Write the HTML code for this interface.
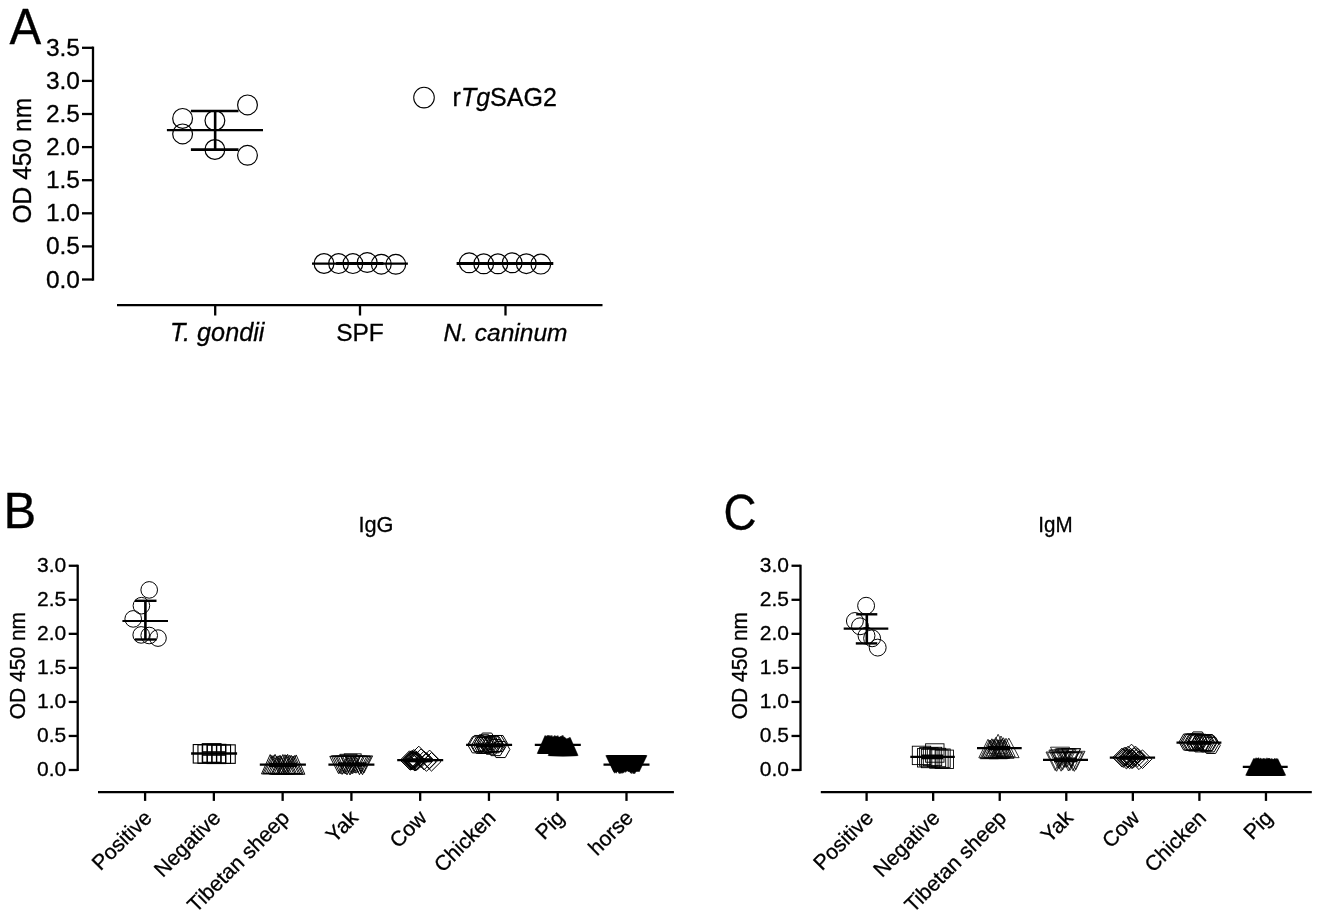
<!DOCTYPE html>
<html lang="en"><head><meta charset="utf-8"><title>Figure</title>
<style>html,body{margin:0;padding:0;background:#fff}svg{display:block}</style></head>
<body>
<svg width="1325" height="917" viewBox="0 0 1325 917" font-family="'Liberation Sans', sans-serif" fill="#000">
<style>text{stroke:#000;stroke-width:0.3px}</style>
<rect width="1325" height="917" fill="#fff"/>
<text x="0.00" y="0.00" font-size="47.5" text-anchor="start" transform="translate(9.6,43.9) scale(1,1.04)">A</text>
<line x1="93.00" y1="46.60" x2="93.00" y2="280.70" stroke="#000" stroke-width="2.3" />
<line x1="82.00" y1="279.50" x2="93.00" y2="279.50" stroke="#000" stroke-width="2.3" />
<text x="80.00" y="287.50" font-size="24.5" text-anchor="end" >0.0</text>
<line x1="82.00" y1="246.40" x2="93.00" y2="246.40" stroke="#000" stroke-width="2.3" />
<text x="80.00" y="254.40" font-size="24.5" text-anchor="end" >0.5</text>
<line x1="82.00" y1="213.30" x2="93.00" y2="213.30" stroke="#000" stroke-width="2.3" />
<text x="80.00" y="221.30" font-size="24.5" text-anchor="end" >1.0</text>
<line x1="82.00" y1="180.20" x2="93.00" y2="180.20" stroke="#000" stroke-width="2.3" />
<text x="80.00" y="188.20" font-size="24.5" text-anchor="end" >1.5</text>
<line x1="82.00" y1="147.10" x2="93.00" y2="147.10" stroke="#000" stroke-width="2.3" />
<text x="80.00" y="155.10" font-size="24.5" text-anchor="end" >2.0</text>
<line x1="82.00" y1="114.00" x2="93.00" y2="114.00" stroke="#000" stroke-width="2.3" />
<text x="80.00" y="122.00" font-size="24.5" text-anchor="end" >2.5</text>
<line x1="82.00" y1="80.90" x2="93.00" y2="80.90" stroke="#000" stroke-width="2.3" />
<text x="80.00" y="88.90" font-size="24.5" text-anchor="end" >3.0</text>
<line x1="82.00" y1="47.80" x2="93.00" y2="47.80" stroke="#000" stroke-width="2.3" />
<text x="80.00" y="55.80" font-size="24.5" text-anchor="end" >3.5</text>
<text x="0.00" y="0.00" font-size="24.6" text-anchor="middle" transform="translate(30.9,160.7) rotate(-90) scale(1,1.045)">OD 450 nm</text>
<line x1="117.00" y1="305.10" x2="602.50" y2="305.10" stroke="#000" stroke-width="2.3" />
<line x1="215.20" y1="305.10" x2="215.20" y2="315.50" stroke="#000" stroke-width="2.3" />
<line x1="360.00" y1="305.10" x2="360.00" y2="315.50" stroke="#000" stroke-width="2.3" />
<line x1="505.50" y1="305.10" x2="505.50" y2="315.50" stroke="#000" stroke-width="2.3" />
<text x="217.20" y="341.20" font-size="25.2" text-anchor="middle" font-style="italic">T. gondii</text>
<text x="360.00" y="340.80" font-size="24.5" text-anchor="middle" >SPF</text>
<text x="505.50" y="340.80" font-size="24.5" text-anchor="middle" font-style="italic">N. caninum</text>
<circle cx="182.60" cy="118.40" r="9.9" fill="none" stroke="#000" stroke-width="1.2"/>
<circle cx="182.60" cy="133.90" r="9.9" fill="none" stroke="#000" stroke-width="1.2"/>
<circle cx="214.90" cy="120.50" r="9.9" fill="none" stroke="#000" stroke-width="1.2"/>
<circle cx="214.90" cy="149.50" r="9.9" fill="none" stroke="#000" stroke-width="1.2"/>
<circle cx="247.50" cy="104.90" r="9.9" fill="none" stroke="#000" stroke-width="1.2"/>
<circle cx="247.50" cy="155.30" r="9.9" fill="none" stroke="#000" stroke-width="1.2"/>
<line x1="166.90" y1="130.10" x2="263.00" y2="130.10" stroke="#000" stroke-width="2.2" />
<line x1="190.90" y1="111.00" x2="238.50" y2="111.00" stroke="#000" stroke-width="2.6" />
<line x1="190.90" y1="149.60" x2="238.50" y2="149.60" stroke="#000" stroke-width="2.6" />
<line x1="215.15" y1="111.00" x2="215.15" y2="149.60" stroke="#000" stroke-width="2.6" />
<circle cx="324.00" cy="263.50" r="9.9" fill="none" stroke="#000" stroke-width="1.2"/>
<circle cx="338.60" cy="263.60" r="9.9" fill="none" stroke="#000" stroke-width="1.2"/>
<circle cx="352.90" cy="263.60" r="9.9" fill="none" stroke="#000" stroke-width="1.2"/>
<circle cx="367.20" cy="262.55" r="9.9" fill="none" stroke="#000" stroke-width="1.2"/>
<circle cx="381.30" cy="264.20" r="9.9" fill="none" stroke="#000" stroke-width="1.2"/>
<circle cx="395.80" cy="264.30" r="9.9" fill="none" stroke="#000" stroke-width="1.2"/>
<line x1="312.00" y1="263.70" x2="407.90" y2="263.70" stroke="#000" stroke-width="2.2" />
<line x1="336.10" y1="263.50" x2="383.40" y2="263.50" stroke="#000" stroke-width="3.0" />
<circle cx="469.20" cy="262.80" r="9.9" fill="none" stroke="#000" stroke-width="1.2"/>
<circle cx="483.70" cy="263.80" r="9.9" fill="none" stroke="#000" stroke-width="1.2"/>
<circle cx="497.90" cy="263.80" r="9.9" fill="none" stroke="#000" stroke-width="1.2"/>
<circle cx="512.20" cy="262.80" r="9.9" fill="none" stroke="#000" stroke-width="1.2"/>
<circle cx="526.30" cy="263.70" r="9.9" fill="none" stroke="#000" stroke-width="1.2"/>
<circle cx="540.80" cy="264.10" r="9.9" fill="none" stroke="#000" stroke-width="1.2"/>
<line x1="456.60" y1="263.50" x2="553.30" y2="263.50" stroke="#000" stroke-width="3.0" />
<circle cx="424.00" cy="97.60" r="10.3" fill="none" stroke="#000" stroke-width="1.05"/>
<text x="452.60" y="105.80" font-size="25" text-anchor="start" >r<tspan font-style="italic">Tg</tspan>SAG2</text>
<text x="0.00" y="0.00" font-size="49" text-anchor="start" transform="translate(3.4,528.1) scale(1,1.026)">B</text>
<line x1="77.70" y1="564.75" x2="77.70" y2="771.00" stroke="#000" stroke-width="2.3" />
<line x1="68.70" y1="770.00" x2="77.70" y2="770.00" stroke="#000" stroke-width="2.3" />
<text x="66.20" y="776.40" font-size="21" text-anchor="end" >0.0</text>
<line x1="68.70" y1="735.96" x2="77.70" y2="735.96" stroke="#000" stroke-width="2.3" />
<text x="66.20" y="742.36" font-size="21" text-anchor="end" >0.5</text>
<line x1="68.70" y1="701.92" x2="77.70" y2="701.92" stroke="#000" stroke-width="2.3" />
<text x="66.20" y="708.32" font-size="21" text-anchor="end" >1.0</text>
<line x1="68.70" y1="667.88" x2="77.70" y2="667.88" stroke="#000" stroke-width="2.3" />
<text x="66.20" y="674.27" font-size="21" text-anchor="end" >1.5</text>
<line x1="68.70" y1="633.83" x2="77.70" y2="633.83" stroke="#000" stroke-width="2.3" />
<text x="66.20" y="640.23" font-size="21" text-anchor="end" >2.0</text>
<line x1="68.70" y1="599.79" x2="77.70" y2="599.79" stroke="#000" stroke-width="2.3" />
<text x="66.20" y="606.19" font-size="21" text-anchor="end" >2.5</text>
<line x1="68.70" y1="565.75" x2="77.70" y2="565.75" stroke="#000" stroke-width="2.3" />
<text x="66.20" y="572.15" font-size="21" text-anchor="end" >3.0</text>
<text x="0.00" y="0.00" font-size="21" text-anchor="middle" transform="translate(25.3,665.6) rotate(-90) scale(1,1.08)">OD 450 nm</text>
<line x1="98.00" y1="792.10" x2="673.90" y2="792.10" stroke="#000" stroke-width="2.3" />
<line x1="145.10" y1="792.10" x2="145.10" y2="800.90" stroke="#000" stroke-width="2.3" />
<text x="0.00" y="0.00" font-size="21.2" text-anchor="end" transform="translate(153.0,819.1) rotate(-45)">Positive</text>
<line x1="213.87" y1="792.10" x2="213.87" y2="800.90" stroke="#000" stroke-width="2.3" />
<text x="0.00" y="0.00" font-size="21.2" text-anchor="end" transform="translate(221.8,819.1) rotate(-45)">Negative</text>
<line x1="282.64" y1="792.10" x2="282.64" y2="800.90" stroke="#000" stroke-width="2.3" />
<text x="0.00" y="0.00" font-size="21.2" text-anchor="end" transform="translate(290.5,819.1) rotate(-45)">Tibetan sheep</text>
<line x1="351.41" y1="792.10" x2="351.41" y2="800.90" stroke="#000" stroke-width="2.3" />
<text x="0.00" y="0.00" font-size="21.2" text-anchor="end" transform="translate(359.3,819.1) rotate(-45)">Yak</text>
<line x1="420.18" y1="792.10" x2="420.18" y2="800.90" stroke="#000" stroke-width="2.3" />
<text x="0.00" y="0.00" font-size="21.2" text-anchor="end" transform="translate(428.1,819.1) rotate(-45)">Cow</text>
<line x1="488.95" y1="792.10" x2="488.95" y2="800.90" stroke="#000" stroke-width="2.3" />
<text x="0.00" y="0.00" font-size="21.2" text-anchor="end" transform="translate(496.8,819.1) rotate(-45)">Chicken</text>
<line x1="557.72" y1="792.10" x2="557.72" y2="800.90" stroke="#000" stroke-width="2.3" />
<text x="0.00" y="0.00" font-size="21.2" text-anchor="end" transform="translate(565.6,819.1) rotate(-45)">Pig</text>
<line x1="626.49" y1="792.10" x2="626.49" y2="800.90" stroke="#000" stroke-width="2.3" />
<text x="0.00" y="0.00" font-size="21.2" text-anchor="end" transform="translate(634.4,819.1) rotate(-45)">horse</text>
<text x="0.00" y="0.00" font-size="22.2" text-anchor="middle" transform="translate(375.9,532.4) scale(0.98,1)">IgG</text>
<circle cx="149.20" cy="589.90" r="8.3" fill="none" stroke="#000" stroke-width="1"/>
<circle cx="141.40" cy="605.70" r="8.3" fill="none" stroke="#000" stroke-width="1"/>
<circle cx="133.20" cy="618.90" r="8.3" fill="none" stroke="#000" stroke-width="1"/>
<circle cx="141.20" cy="634.90" r="8.3" fill="none" stroke="#000" stroke-width="1"/>
<circle cx="149.20" cy="635.50" r="8.3" fill="none" stroke="#000" stroke-width="1"/>
<circle cx="158.00" cy="638.10" r="8.3" fill="none" stroke="#000" stroke-width="1"/>
<line x1="122.40" y1="621.00" x2="168.00" y2="621.00" stroke="#000" stroke-width="2.2" />
<line x1="135.00" y1="600.80" x2="156.50" y2="600.80" stroke="#000" stroke-width="2.4" />
<line x1="135.00" y1="639.50" x2="156.50" y2="639.50" stroke="#000" stroke-width="2.4" />
<line x1="145.40" y1="600.80" x2="145.40" y2="639.50" stroke="#000" stroke-width="2.6" />
<rect x="193.25" y="744.55" width="18.5" height="18.5" fill="none" stroke="#000" stroke-width="1.1"/>
<rect x="197.95" y="744.85" width="18.5" height="18.5" fill="none" stroke="#000" stroke-width="1.1"/>
<rect x="202.65" y="744.05" width="18.5" height="18.5" fill="none" stroke="#000" stroke-width="1.1"/>
<rect x="207.35" y="744.35" width="18.5" height="18.5" fill="none" stroke="#000" stroke-width="1.1"/>
<rect x="212.05" y="744.95" width="18.5" height="18.5" fill="none" stroke="#000" stroke-width="1.1"/>
<rect x="216.75" y="744.85" width="18.5" height="18.5" fill="none" stroke="#000" stroke-width="1.1"/>
<rect x="202.25" y="743.75" width="18.5" height="18.5" fill="none" stroke="#000" stroke-width="1.1"/>
<rect x="207.05" y="745.05" width="18.5" height="18.5" fill="none" stroke="#000" stroke-width="1.1"/>
<line x1="191.10" y1="753.50" x2="237.10" y2="753.50" stroke="#000" stroke-width="2.3" />
<line x1="202.00" y1="752.00" x2="225.50" y2="752.00" stroke="#000" stroke-width="1.6" />
<line x1="202.00" y1="755.00" x2="225.50" y2="755.00" stroke="#000" stroke-width="1.6" />
<polygon points="270.16,754.59 261.46,773.95 278.86,773.95" fill="none" stroke="#000" stroke-width="0.95" stroke-linejoin="miter"/>
<polygon points="271.56,755.59 262.86,773.67 280.26,773.67" fill="none" stroke="#000" stroke-width="0.95" stroke-linejoin="miter"/>
<polygon points="273.16,755.52 264.46,773.34 281.86,773.34" fill="none" stroke="#000" stroke-width="0.95" stroke-linejoin="miter"/>
<polygon points="275.07,754.38 266.37,773.39 283.77,773.39" fill="none" stroke="#000" stroke-width="0.95" stroke-linejoin="miter"/>
<polygon points="276.66,756.35 267.96,773.42 285.36,773.42" fill="none" stroke="#000" stroke-width="0.95" stroke-linejoin="miter"/>
<polygon points="278.11,755.83 269.41,774.25 286.81,774.25" fill="none" stroke="#000" stroke-width="0.95" stroke-linejoin="miter"/>
<polygon points="280.00,755.23 271.30,774.28 288.70,774.28" fill="none" stroke="#000" stroke-width="0.95" stroke-linejoin="miter"/>
<polygon points="281.18,756.43 272.48,773.59 289.88,773.59" fill="none" stroke="#000" stroke-width="0.95" stroke-linejoin="miter"/>
<polygon points="282.87,754.51 274.17,773.61 291.57,773.61" fill="none" stroke="#000" stroke-width="0.95" stroke-linejoin="miter"/>
<polygon points="285.01,754.67 276.31,773.88 293.71,773.88" fill="none" stroke="#000" stroke-width="0.95" stroke-linejoin="miter"/>
<polygon points="286.47,755.17 277.77,773.85 295.17,773.85" fill="none" stroke="#000" stroke-width="0.95" stroke-linejoin="miter"/>
<polygon points="287.62,754.35 278.92,773.51 296.32,773.51" fill="none" stroke="#000" stroke-width="0.95" stroke-linejoin="miter"/>
<polygon points="289.72,755.31 281.02,773.61 298.42,773.61" fill="none" stroke="#000" stroke-width="0.95" stroke-linejoin="miter"/>
<polygon points="291.25,755.38 282.55,773.60 299.95,773.60" fill="none" stroke="#000" stroke-width="0.95" stroke-linejoin="miter"/>
<polygon points="293.02,756.02 284.32,773.54 301.72,773.54" fill="none" stroke="#000" stroke-width="0.95" stroke-linejoin="miter"/>
<polygon points="294.45,755.57 285.75,774.18 303.15,774.18" fill="none" stroke="#000" stroke-width="0.95" stroke-linejoin="miter"/>
<polygon points="296.18,754.95 287.48,774.28 304.88,774.28" fill="none" stroke="#000" stroke-width="0.95" stroke-linejoin="miter"/>
<line x1="259.80" y1="764.70" x2="305.90" y2="764.70" stroke="#000" stroke-width="2.3" />
<line x1="269.00" y1="764.90" x2="297.00" y2="764.90" stroke="#000" stroke-width="4.4" />
<polygon points="338.49,773.60 329.79,756.38 347.19,756.38" fill="none" stroke="#000" stroke-width="0.95" stroke-linejoin="miter"/>
<polygon points="340.11,773.77 331.41,755.74 348.81,755.74" fill="none" stroke="#000" stroke-width="0.95" stroke-linejoin="miter"/>
<polygon points="342.11,774.43 333.41,756.22 350.81,756.22" fill="none" stroke="#000" stroke-width="0.95" stroke-linejoin="miter"/>
<polygon points="343.86,773.35 335.16,756.33 352.56,756.33" fill="none" stroke="#000" stroke-width="0.95" stroke-linejoin="miter"/>
<polygon points="345.23,773.99 336.53,756.11 353.93,756.11" fill="none" stroke="#000" stroke-width="0.95" stroke-linejoin="miter"/>
<polygon points="347.01,774.87 338.31,756.13 355.71,756.13" fill="none" stroke="#000" stroke-width="0.95" stroke-linejoin="miter"/>
<polygon points="348.46,772.75 339.76,754.33 357.16,754.33" fill="none" stroke="#000" stroke-width="0.95" stroke-linejoin="miter"/>
<polygon points="350.03,774.98 341.33,756.44 358.73,756.44" fill="none" stroke="#000" stroke-width="0.95" stroke-linejoin="miter"/>
<polygon points="351.33,773.53 342.63,756.30 360.03,756.30" fill="none" stroke="#000" stroke-width="0.95" stroke-linejoin="miter"/>
<polygon points="352.71,773.71 344.01,753.85 361.41,753.85" fill="none" stroke="#000" stroke-width="0.95" stroke-linejoin="miter"/>
<polygon points="354.37,772.74 345.67,756.39 363.07,756.39" fill="none" stroke="#000" stroke-width="0.95" stroke-linejoin="miter"/>
<polygon points="355.97,773.19 347.27,756.05 364.67,756.05" fill="none" stroke="#000" stroke-width="0.95" stroke-linejoin="miter"/>
<polygon points="358.15,772.79 349.45,756.10 366.85,756.10" fill="none" stroke="#000" stroke-width="0.95" stroke-linejoin="miter"/>
<polygon points="359.48,774.72 350.78,756.44 368.18,756.44" fill="none" stroke="#000" stroke-width="0.95" stroke-linejoin="miter"/>
<polygon points="361.32,773.27 352.62,756.07 370.02,756.07" fill="none" stroke="#000" stroke-width="0.95" stroke-linejoin="miter"/>
<polygon points="362.50,774.72 353.80,756.56 371.20,756.56" fill="none" stroke="#000" stroke-width="0.95" stroke-linejoin="miter"/>
<polygon points="363.92,773.02 355.22,755.91 372.62,755.91" fill="none" stroke="#000" stroke-width="0.95" stroke-linejoin="miter"/>
<line x1="328.40" y1="764.60" x2="374.40" y2="764.60" stroke="#000" stroke-width="2.3" />
<line x1="338.00" y1="764.40" x2="366.00" y2="764.40" stroke="#000" stroke-width="4.2" />
<polygon points="409.50,750.81 418.80,760.11 409.50,769.41 400.20,760.11" fill="none" stroke="#000" stroke-width="1.0"/>
<polygon points="410.18,751.37 419.48,760.67 410.18,769.97 400.88,760.67" fill="none" stroke="#000" stroke-width="1.0"/>
<polygon points="410.86,751.60 420.16,760.90 410.86,770.20 401.56,760.90" fill="none" stroke="#000" stroke-width="1.0"/>
<polygon points="411.55,750.88 420.85,760.18 411.55,769.48 402.25,760.18" fill="none" stroke="#000" stroke-width="1.0"/>
<polygon points="412.23,750.31 421.53,759.61 412.23,768.91 402.93,759.61" fill="none" stroke="#000" stroke-width="1.0"/>
<polygon points="412.91,751.22 422.21,760.52 412.91,769.82 403.61,760.52" fill="none" stroke="#000" stroke-width="1.0"/>
<polygon points="413.59,751.11 422.89,760.41 413.59,769.71 404.29,760.41" fill="none" stroke="#000" stroke-width="1.0"/>
<polygon points="414.27,751.55 423.57,760.85 414.27,770.15 404.97,760.85" fill="none" stroke="#000" stroke-width="1.0"/>
<polygon points="414.95,752.40 424.25,761.70 414.95,771.00 405.65,761.70" fill="none" stroke="#000" stroke-width="1.0"/>
<polygon points="415.64,751.82 424.94,761.12 415.64,770.42 406.34,761.12" fill="none" stroke="#000" stroke-width="1.0"/>
<polygon points="416.32,751.43 425.62,760.73 416.32,770.03 407.02,760.73" fill="none" stroke="#000" stroke-width="1.0"/>
<polygon points="417.00,751.66 426.30,760.96 417.00,770.26 407.70,760.96" fill="none" stroke="#000" stroke-width="1.0"/>
<polygon points="418.80,746.20 428.10,755.50 418.80,764.80 409.50,755.50" fill="none" stroke="#000" stroke-width="1.0"/>
<polygon points="421.00,748.90 430.30,758.20 421.00,767.50 411.70,758.20" fill="none" stroke="#000" stroke-width="1.0"/>
<polygon points="424.00,751.20 433.30,760.50 424.00,769.80 414.70,760.50" fill="none" stroke="#000" stroke-width="1.0"/>
<polygon points="429.60,750.10 438.90,759.40 429.60,768.70 420.30,759.40" fill="none" stroke="#000" stroke-width="1.0"/>
<polygon points="431.50,752.50 440.80,761.80 431.50,771.10 422.20,761.80" fill="none" stroke="#000" stroke-width="1.0"/>
<polygon points="426.50,752.70 435.80,762.00 426.50,771.30 417.20,762.00" fill="none" stroke="#000" stroke-width="1.0"/>
<polygon points="414.00,749.50 423.30,758.80 414.00,768.10 404.70,758.80" fill="none" stroke="#000" stroke-width="1.0"/>
<line x1="397.20" y1="760.10" x2="443.20" y2="760.10" stroke="#000" stroke-width="2.3" />
<line x1="406.00" y1="760.30" x2="432.00" y2="760.30" stroke="#000" stroke-width="4.2" />
<polygon points="467.70,744.82 472.35,736.77 481.65,736.77 486.30,744.82 481.65,752.87 472.35,752.87" fill="none" stroke="#000" stroke-width="1.0"/>
<polygon points="469.64,743.51 474.29,735.46 483.59,735.46 488.24,743.51 483.59,751.56 474.29,751.56" fill="none" stroke="#000" stroke-width="1.0"/>
<polygon points="471.57,745.29 476.22,737.24 485.52,737.24 490.17,745.29 485.52,753.34 476.22,753.34" fill="none" stroke="#000" stroke-width="1.0"/>
<polygon points="473.51,745.04 478.16,736.99 487.46,736.99 492.11,745.04 487.46,753.09 478.16,753.09" fill="none" stroke="#000" stroke-width="1.0"/>
<polygon points="475.45,745.24 480.10,737.19 489.40,737.19 494.05,745.24 489.40,753.29 480.10,753.29" fill="none" stroke="#000" stroke-width="1.0"/>
<polygon points="477.38,745.08 482.03,737.03 491.33,737.03 495.98,745.08 491.33,753.13 482.03,753.13" fill="none" stroke="#000" stroke-width="1.0"/>
<polygon points="479.32,744.22 483.97,736.17 493.27,736.17 497.92,744.22 493.27,752.27 483.97,752.27" fill="none" stroke="#000" stroke-width="1.0"/>
<polygon points="481.25,744.24 485.90,736.19 495.20,736.19 499.85,744.24 495.20,752.29 485.90,752.29" fill="none" stroke="#000" stroke-width="1.0"/>
<polygon points="483.19,743.62 487.84,735.57 497.14,735.57 501.79,743.62 497.14,751.67 487.84,751.67" fill="none" stroke="#000" stroke-width="1.0"/>
<polygon points="485.13,744.73 489.78,736.68 499.08,736.68 503.73,744.73 499.08,752.78 489.78,752.78" fill="none" stroke="#000" stroke-width="1.0"/>
<polygon points="487.06,743.53 491.71,735.48 501.01,735.48 505.66,743.53 501.01,751.58 491.71,751.58" fill="none" stroke="#000" stroke-width="1.0"/>
<polygon points="489.00,743.54 493.65,735.49 502.95,735.49 507.60,743.54 502.95,751.59 493.65,751.59" fill="none" stroke="#000" stroke-width="1.0"/>
<polygon points="477.70,741.10 482.35,733.05 491.65,733.05 496.30,741.10 491.65,749.15 482.35,749.15" fill="none" stroke="#000" stroke-width="1.0"/>
<polygon points="486.30,747.60 490.95,739.55 500.25,739.55 504.90,747.60 500.25,755.65 490.95,755.65" fill="none" stroke="#000" stroke-width="1.0"/>
<polygon points="491.30,749.50 495.95,741.45 505.25,741.45 509.90,749.50 505.25,757.55 495.95,757.55" fill="none" stroke="#000" stroke-width="1.0"/>
<polygon points="474.70,742.80 479.35,734.75 488.65,734.75 493.30,742.80 488.65,750.85 479.35,750.85" fill="none" stroke="#000" stroke-width="1.0"/>
<polygon points="481.70,746.20 486.35,738.15 495.65,738.15 500.30,746.20 495.65,754.25 486.35,754.25" fill="none" stroke="#000" stroke-width="1.0"/>
<line x1="466.10" y1="744.90" x2="512.10" y2="744.90" stroke="#000" stroke-width="2.3" />
<line x1="476.00" y1="745.40" x2="503.00" y2="745.40" stroke="#000" stroke-width="4.2" />
<polygon points="545.00,735.62 537.20,753.50 552.80,753.50" fill="#000" stroke="#000" stroke-width="0.5" stroke-linejoin="miter"/>
<polygon points="545.86,735.52 538.06,753.50 553.66,753.50" fill="#000" stroke="#000" stroke-width="0.5" stroke-linejoin="miter"/>
<polygon points="546.71,735.88 538.91,753.50 554.51,753.50" fill="#000" stroke="#000" stroke-width="0.5" stroke-linejoin="miter"/>
<polygon points="547.57,735.31 539.77,753.50 555.37,753.50" fill="#000" stroke="#000" stroke-width="0.5" stroke-linejoin="miter"/>
<polygon points="548.43,735.20 540.63,753.50 556.23,753.50" fill="#000" stroke="#000" stroke-width="0.5" stroke-linejoin="miter"/>
<polygon points="549.29,735.50 541.49,753.50 557.09,753.50" fill="#000" stroke="#000" stroke-width="0.5" stroke-linejoin="miter"/>
<polygon points="550.14,735.40 542.34,753.50 557.94,753.50" fill="#000" stroke="#000" stroke-width="0.5" stroke-linejoin="miter"/>
<polygon points="551.00,735.93 543.20,753.50 558.80,753.50" fill="#000" stroke="#000" stroke-width="0.5" stroke-linejoin="miter"/>
<polygon points="551.86,735.25 544.06,753.50 559.66,753.50" fill="#000" stroke="#000" stroke-width="0.5" stroke-linejoin="miter"/>
<polygon points="552.71,736.95 544.91,753.50 560.51,753.50" fill="#000" stroke="#000" stroke-width="0.5" stroke-linejoin="miter"/>
<polygon points="553.57,736.43 545.77,753.50 561.37,753.50" fill="#000" stroke="#000" stroke-width="0.5" stroke-linejoin="miter"/>
<polygon points="554.43,735.50 546.63,753.50 562.23,753.50" fill="#000" stroke="#000" stroke-width="0.5" stroke-linejoin="miter"/>
<polygon points="555.29,735.70 547.49,753.50 563.09,753.50" fill="#000" stroke="#000" stroke-width="0.5" stroke-linejoin="miter"/>
<polygon points="556.14,735.89 548.34,753.50 563.94,753.50" fill="#000" stroke="#000" stroke-width="0.5" stroke-linejoin="miter"/>
<polygon points="557.00,735.93 549.20,753.50 564.80,753.50" fill="#000" stroke="#000" stroke-width="0.5" stroke-linejoin="miter"/>
<polygon points="557.86,735.45 550.06,753.50 565.66,753.50" fill="#000" stroke="#000" stroke-width="0.5" stroke-linejoin="miter"/>
<polygon points="558.71,736.90 550.91,753.50 566.51,753.50" fill="#000" stroke="#000" stroke-width="0.5" stroke-linejoin="miter"/>
<polygon points="559.57,737.19 551.77,753.50 567.37,753.50" fill="#000" stroke="#000" stroke-width="0.5" stroke-linejoin="miter"/>
<polygon points="560.43,736.13 552.63,753.50 568.23,753.50" fill="#000" stroke="#000" stroke-width="0.5" stroke-linejoin="miter"/>
<polygon points="561.29,736.17 553.49,753.50 569.09,753.50" fill="#000" stroke="#000" stroke-width="0.5" stroke-linejoin="miter"/>
<polygon points="562.14,735.37 554.34,753.50 569.94,753.50" fill="#000" stroke="#000" stroke-width="0.5" stroke-linejoin="miter"/>
<polygon points="563.00,735.40 555.20,753.50 570.80,753.50" fill="#000" stroke="#000" stroke-width="0.5" stroke-linejoin="miter"/>
<polygon points="556.00,737.42 548.10,755.60 563.90,755.60" fill="#000" stroke="#000" stroke-width="0.5" stroke-linejoin="miter"/>
<polygon points="556.95,737.28 549.05,755.60 564.85,755.60" fill="#000" stroke="#000" stroke-width="0.5" stroke-linejoin="miter"/>
<polygon points="557.89,738.29 549.99,755.60 565.79,755.60" fill="#000" stroke="#000" stroke-width="0.5" stroke-linejoin="miter"/>
<polygon points="558.84,737.09 550.94,755.60 566.74,755.60" fill="#000" stroke="#000" stroke-width="0.5" stroke-linejoin="miter"/>
<polygon points="559.79,736.84 551.89,755.60 567.69,755.60" fill="#000" stroke="#000" stroke-width="0.5" stroke-linejoin="miter"/>
<polygon points="560.73,738.51 552.83,755.60 568.63,755.60" fill="#000" stroke="#000" stroke-width="0.5" stroke-linejoin="miter"/>
<polygon points="561.68,737.75 553.78,755.60 569.58,755.60" fill="#000" stroke="#000" stroke-width="0.5" stroke-linejoin="miter"/>
<polygon points="562.63,737.06 554.73,755.60 570.53,755.60" fill="#000" stroke="#000" stroke-width="0.5" stroke-linejoin="miter"/>
<polygon points="563.57,737.78 555.67,755.60 571.47,755.60" fill="#000" stroke="#000" stroke-width="0.5" stroke-linejoin="miter"/>
<polygon points="564.52,736.85 556.62,755.60 572.42,755.60" fill="#000" stroke="#000" stroke-width="0.5" stroke-linejoin="miter"/>
<polygon points="565.47,737.75 557.57,755.60 573.37,755.60" fill="#000" stroke="#000" stroke-width="0.5" stroke-linejoin="miter"/>
<polygon points="566.41,738.56 558.51,755.60 574.31,755.60" fill="#000" stroke="#000" stroke-width="0.5" stroke-linejoin="miter"/>
<polygon points="567.36,738.35 559.46,755.60 575.26,755.60" fill="#000" stroke="#000" stroke-width="0.5" stroke-linejoin="miter"/>
<polygon points="568.31,738.05 560.41,755.60 576.21,755.60" fill="#000" stroke="#000" stroke-width="0.5" stroke-linejoin="miter"/>
<polygon points="569.25,737.27 561.35,755.60 577.15,755.60" fill="#000" stroke="#000" stroke-width="0.5" stroke-linejoin="miter"/>
<polygon points="570.20,737.46 562.30,755.60 578.10,755.60" fill="#000" stroke="#000" stroke-width="0.5" stroke-linejoin="miter"/>
<line x1="534.80" y1="744.90" x2="580.80" y2="744.90" stroke="#000" stroke-width="2.3" />
<polygon points="613.60,771.63 605.80,755.60 621.40,755.60" fill="#000" stroke="#000" stroke-width="0.5" stroke-linejoin="miter"/>
<polygon points="614.48,773.21 606.68,755.60 622.28,755.60" fill="#000" stroke="#000" stroke-width="0.5" stroke-linejoin="miter"/>
<polygon points="615.37,772.58 607.57,755.60 623.17,755.60" fill="#000" stroke="#000" stroke-width="0.5" stroke-linejoin="miter"/>
<polygon points="616.25,773.23 608.45,755.60 624.05,755.60" fill="#000" stroke="#000" stroke-width="0.5" stroke-linejoin="miter"/>
<polygon points="617.13,772.06 609.33,755.60 624.93,755.60" fill="#000" stroke="#000" stroke-width="0.5" stroke-linejoin="miter"/>
<polygon points="618.01,771.78 610.21,755.60 625.81,755.60" fill="#000" stroke="#000" stroke-width="0.5" stroke-linejoin="miter"/>
<polygon points="618.90,773.31 611.10,755.60 626.70,755.60" fill="#000" stroke="#000" stroke-width="0.5" stroke-linejoin="miter"/>
<polygon points="619.78,773.76 611.98,755.60 627.58,755.60" fill="#000" stroke="#000" stroke-width="0.5" stroke-linejoin="miter"/>
<polygon points="620.66,773.42 612.86,755.60 628.46,755.60" fill="#000" stroke="#000" stroke-width="0.5" stroke-linejoin="miter"/>
<polygon points="621.54,773.30 613.74,755.60 629.34,755.60" fill="#000" stroke="#000" stroke-width="0.5" stroke-linejoin="miter"/>
<polygon points="622.43,773.33 614.63,755.60 630.23,755.60" fill="#000" stroke="#000" stroke-width="0.5" stroke-linejoin="miter"/>
<polygon points="623.31,773.12 615.51,755.60 631.11,755.60" fill="#000" stroke="#000" stroke-width="0.5" stroke-linejoin="miter"/>
<polygon points="624.19,771.79 616.39,755.60 631.99,755.60" fill="#000" stroke="#000" stroke-width="0.5" stroke-linejoin="miter"/>
<polygon points="625.08,772.55 617.28,755.60 632.88,755.60" fill="#000" stroke="#000" stroke-width="0.5" stroke-linejoin="miter"/>
<polygon points="625.96,772.12 618.16,755.60 633.76,755.60" fill="#000" stroke="#000" stroke-width="0.5" stroke-linejoin="miter"/>
<polygon points="626.84,771.28 619.04,755.60 634.64,755.60" fill="#000" stroke="#000" stroke-width="0.5" stroke-linejoin="miter"/>
<polygon points="627.72,771.27 619.92,755.60 635.52,755.60" fill="#000" stroke="#000" stroke-width="0.5" stroke-linejoin="miter"/>
<polygon points="628.61,771.93 620.81,755.60 636.41,755.60" fill="#000" stroke="#000" stroke-width="0.5" stroke-linejoin="miter"/>
<polygon points="629.49,771.87 621.69,755.60 637.29,755.60" fill="#000" stroke="#000" stroke-width="0.5" stroke-linejoin="miter"/>
<polygon points="630.37,773.00 622.57,755.60 638.17,755.60" fill="#000" stroke="#000" stroke-width="0.5" stroke-linejoin="miter"/>
<polygon points="631.26,773.69 623.46,755.60 639.06,755.60" fill="#000" stroke="#000" stroke-width="0.5" stroke-linejoin="miter"/>
<polygon points="632.14,772.36 624.34,755.60 639.94,755.60" fill="#000" stroke="#000" stroke-width="0.5" stroke-linejoin="miter"/>
<polygon points="633.02,773.64 625.22,755.60 640.82,755.60" fill="#000" stroke="#000" stroke-width="0.5" stroke-linejoin="miter"/>
<polygon points="633.90,773.77 626.10,755.60 641.70,755.60" fill="#000" stroke="#000" stroke-width="0.5" stroke-linejoin="miter"/>
<polygon points="634.79,773.68 626.99,755.60 642.59,755.60" fill="#000" stroke="#000" stroke-width="0.5" stroke-linejoin="miter"/>
<polygon points="635.67,772.15 627.87,755.60 643.47,755.60" fill="#000" stroke="#000" stroke-width="0.5" stroke-linejoin="miter"/>
<polygon points="636.55,771.77 628.75,755.60 644.35,755.60" fill="#000" stroke="#000" stroke-width="0.5" stroke-linejoin="miter"/>
<polygon points="637.43,771.79 629.63,755.60 645.23,755.60" fill="#000" stroke="#000" stroke-width="0.5" stroke-linejoin="miter"/>
<polygon points="638.32,771.71 630.52,755.60 646.12,755.60" fill="#000" stroke="#000" stroke-width="0.5" stroke-linejoin="miter"/>
<polygon points="639.20,771.73 631.40,755.60 647.00,755.60" fill="#000" stroke="#000" stroke-width="0.5" stroke-linejoin="miter"/>
<line x1="603.50" y1="764.60" x2="649.50" y2="764.60" stroke="#000" stroke-width="2.3" />
<text x="0.00" y="0.00" font-size="48" text-anchor="start" transform="translate(723.5,529.6) scale(0.95,1.06)">C</text>
<line x1="800.50" y1="564.75" x2="800.50" y2="771.00" stroke="#000" stroke-width="2.3" />
<line x1="791.50" y1="770.00" x2="800.50" y2="770.00" stroke="#000" stroke-width="2.3" />
<text x="789.00" y="776.40" font-size="21" text-anchor="end" >0.0</text>
<line x1="791.50" y1="735.96" x2="800.50" y2="735.96" stroke="#000" stroke-width="2.3" />
<text x="789.00" y="742.36" font-size="21" text-anchor="end" >0.5</text>
<line x1="791.50" y1="701.92" x2="800.50" y2="701.92" stroke="#000" stroke-width="2.3" />
<text x="789.00" y="708.32" font-size="21" text-anchor="end" >1.0</text>
<line x1="791.50" y1="667.88" x2="800.50" y2="667.88" stroke="#000" stroke-width="2.3" />
<text x="789.00" y="674.27" font-size="21" text-anchor="end" >1.5</text>
<line x1="791.50" y1="633.83" x2="800.50" y2="633.83" stroke="#000" stroke-width="2.3" />
<text x="789.00" y="640.23" font-size="21" text-anchor="end" >2.0</text>
<line x1="791.50" y1="599.79" x2="800.50" y2="599.79" stroke="#000" stroke-width="2.3" />
<text x="789.00" y="606.19" font-size="21" text-anchor="end" >2.5</text>
<line x1="791.50" y1="565.75" x2="800.50" y2="565.75" stroke="#000" stroke-width="2.3" />
<text x="789.00" y="572.15" font-size="21" text-anchor="end" >3.0</text>
<text x="0.00" y="0.00" font-size="21" text-anchor="middle" transform="translate(747.3,665.6) rotate(-90) scale(1,1.035)">OD 450 nm</text>
<line x1="820.80" y1="792.10" x2="1311.80" y2="792.10" stroke="#000" stroke-width="2.3" />
<line x1="866.60" y1="792.10" x2="866.60" y2="800.90" stroke="#000" stroke-width="2.3" />
<text x="0.00" y="0.00" font-size="21.2" text-anchor="end" transform="translate(874.5,819.1) rotate(-45)">Positive</text>
<line x1="933.16" y1="792.10" x2="933.16" y2="800.90" stroke="#000" stroke-width="2.3" />
<text x="0.00" y="0.00" font-size="21.2" text-anchor="end" transform="translate(941.1,819.1) rotate(-45)">Negative</text>
<line x1="999.72" y1="792.10" x2="999.72" y2="800.90" stroke="#000" stroke-width="2.3" />
<text x="0.00" y="0.00" font-size="21.2" text-anchor="end" transform="translate(1007.6,819.1) rotate(-45)">Tibetan sheep</text>
<line x1="1066.28" y1="792.10" x2="1066.28" y2="800.90" stroke="#000" stroke-width="2.3" />
<text x="0.00" y="0.00" font-size="21.2" text-anchor="end" transform="translate(1074.2,819.1) rotate(-45)">Yak</text>
<line x1="1132.84" y1="792.10" x2="1132.84" y2="800.90" stroke="#000" stroke-width="2.3" />
<text x="0.00" y="0.00" font-size="21.2" text-anchor="end" transform="translate(1140.7,819.1) rotate(-45)">Cow</text>
<line x1="1199.40" y1="792.10" x2="1199.40" y2="800.90" stroke="#000" stroke-width="2.3" />
<text x="0.00" y="0.00" font-size="21.2" text-anchor="end" transform="translate(1207.3,819.1) rotate(-45)">Chicken</text>
<line x1="1265.96" y1="792.10" x2="1265.96" y2="800.90" stroke="#000" stroke-width="2.3" />
<text x="0.00" y="0.00" font-size="21.2" text-anchor="end" transform="translate(1273.9,819.1) rotate(-45)">Pig</text>
<text x="0.00" y="0.00" font-size="22.2" text-anchor="middle" transform="translate(1055.5,532.4) scale(0.928,1)">IgM</text>
<circle cx="866.10" cy="605.75" r="8.45" fill="none" stroke="#000" stroke-width="1"/>
<circle cx="854.90" cy="621.00" r="8.45" fill="none" stroke="#000" stroke-width="1"/>
<circle cx="860.00" cy="626.30" r="8.45" fill="none" stroke="#000" stroke-width="1"/>
<circle cx="866.50" cy="635.70" r="8.45" fill="none" stroke="#000" stroke-width="1"/>
<circle cx="872.10" cy="638.30" r="8.45" fill="none" stroke="#000" stroke-width="1"/>
<circle cx="877.70" cy="647.60" r="8.45" fill="none" stroke="#000" stroke-width="1"/>
<line x1="843.70" y1="628.60" x2="888.30" y2="628.60" stroke="#000" stroke-width="2.2" />
<line x1="856.20" y1="614.30" x2="877.30" y2="614.30" stroke="#000" stroke-width="2.4" />
<line x1="855.80" y1="643.40" x2="877.30" y2="643.40" stroke="#000" stroke-width="2.4" />
<line x1="866.80" y1="614.30" x2="866.80" y2="643.40" stroke="#000" stroke-width="2.6" />
<rect x="912.30" y="746.20" width="18.4" height="18.4" fill="none" stroke="#000" stroke-width="0.9"/>
<rect x="917.50" y="748.60" width="18.4" height="18.4" fill="none" stroke="#000" stroke-width="0.9"/>
<rect x="925.60" y="743.80" width="18.4" height="18.4" fill="none" stroke="#000" stroke-width="0.9"/>
<rect x="921.40" y="749.30" width="18.4" height="18.4" fill="none" stroke="#000" stroke-width="0.9"/>
<rect x="935.10" y="750.10" width="18.4" height="18.4" fill="none" stroke="#000" stroke-width="0.9"/>
<rect x="929.70" y="749.80" width="18.4" height="18.4" fill="none" stroke="#000" stroke-width="0.9"/>
<rect x="923.30" y="747.30" width="18.4" height="18.4" fill="none" stroke="#000" stroke-width="0.9"/>
<rect x="927.30" y="748.30" width="18.4" height="18.4" fill="none" stroke="#000" stroke-width="0.9"/>
<rect x="919.60" y="747.60" width="18.4" height="18.4" fill="none" stroke="#000" stroke-width="0.9"/>
<rect x="931.80" y="749.00" width="18.4" height="18.4" fill="none" stroke="#000" stroke-width="0.9"/>
<line x1="910.30" y1="756.90" x2="954.80" y2="756.90" stroke="#000" stroke-width="2.3" />
<line x1="921.40" y1="756.90" x2="943.20" y2="756.90" stroke="#000" stroke-width="4.8" />
<polygon points="988.00,739.27 978.80,757.77 997.20,757.77" fill="none" stroke="#000" stroke-width="0.8" stroke-linejoin="miter"/>
<polygon points="989.29,740.21 980.09,758.71 998.49,758.71" fill="none" stroke="#000" stroke-width="0.8" stroke-linejoin="miter"/>
<polygon points="990.57,740.01 981.37,758.51 999.77,758.51" fill="none" stroke="#000" stroke-width="0.8" stroke-linejoin="miter"/>
<polygon points="991.86,738.78 982.66,757.28 1001.06,757.28" fill="none" stroke="#000" stroke-width="0.8" stroke-linejoin="miter"/>
<polygon points="993.14,739.37 983.94,757.87 1002.34,757.87" fill="none" stroke="#000" stroke-width="0.8" stroke-linejoin="miter"/>
<polygon points="994.43,739.87 985.23,758.37 1003.63,758.37" fill="none" stroke="#000" stroke-width="0.8" stroke-linejoin="miter"/>
<polygon points="995.71,737.44 986.51,755.94 1004.91,755.94" fill="none" stroke="#000" stroke-width="0.8" stroke-linejoin="miter"/>
<polygon points="997.00,739.40 987.80,757.90 1006.20,757.90" fill="none" stroke="#000" stroke-width="0.8" stroke-linejoin="miter"/>
<polygon points="998.29,740.24 989.09,758.74 1007.49,758.74" fill="none" stroke="#000" stroke-width="0.8" stroke-linejoin="miter"/>
<polygon points="999.57,739.81 990.37,758.31 1008.77,758.31" fill="none" stroke="#000" stroke-width="0.8" stroke-linejoin="miter"/>
<polygon points="1000.86,739.70 991.66,758.20 1010.06,758.20" fill="none" stroke="#000" stroke-width="0.8" stroke-linejoin="miter"/>
<polygon points="1002.14,738.78 992.94,757.28 1011.34,757.28" fill="none" stroke="#000" stroke-width="0.8" stroke-linejoin="miter"/>
<polygon points="1003.43,737.76 994.23,756.26 1012.63,756.26" fill="none" stroke="#000" stroke-width="0.8" stroke-linejoin="miter"/>
<polygon points="1004.71,739.83 995.51,758.33 1013.91,758.33" fill="none" stroke="#000" stroke-width="0.8" stroke-linejoin="miter"/>
<polygon points="1006.00,738.28 996.80,756.78 1015.20,756.78" fill="none" stroke="#000" stroke-width="0.8" stroke-linejoin="miter"/>
<polygon points="998.10,734.30 988.60,753.30 1007.60,753.30" fill="none" stroke="#000" stroke-width="0.8" stroke-linejoin="miter"/>
<polygon points="1008.80,738.15 998.50,757.65 1019.10,757.65" fill="none" stroke="#000" stroke-width="0.8" stroke-linejoin="miter"/>
<polygon points="1001.00,736.00 991.50,755.00 1010.50,755.00" fill="none" stroke="#000" stroke-width="0.8" stroke-linejoin="miter"/>
<line x1="977.00" y1="748.10" x2="1021.70" y2="748.10" stroke="#000" stroke-width="2.3" />
<line x1="988.00" y1="746.60" x2="1010.00" y2="746.60" stroke="#000" stroke-width="1.4" />
<line x1="988.00" y1="749.60" x2="1010.00" y2="749.60" stroke="#000" stroke-width="1.4" />
<polygon points="1055.20,770.49 1046.00,751.99 1064.40,751.99" fill="none" stroke="#000" stroke-width="0.8" stroke-linejoin="miter"/>
<polygon points="1056.67,771.31 1047.47,752.81 1065.87,752.81" fill="none" stroke="#000" stroke-width="0.8" stroke-linejoin="miter"/>
<polygon points="1058.14,768.55 1048.94,750.05 1067.34,750.05" fill="none" stroke="#000" stroke-width="0.8" stroke-linejoin="miter"/>
<polygon points="1059.61,768.58 1050.41,750.08 1068.81,750.08" fill="none" stroke="#000" stroke-width="0.8" stroke-linejoin="miter"/>
<polygon points="1061.09,771.19 1051.89,752.69 1070.29,752.69" fill="none" stroke="#000" stroke-width="0.8" stroke-linejoin="miter"/>
<polygon points="1062.56,770.13 1053.36,751.63 1071.76,751.63" fill="none" stroke="#000" stroke-width="0.8" stroke-linejoin="miter"/>
<polygon points="1064.03,767.47 1054.83,748.97 1073.23,748.97" fill="none" stroke="#000" stroke-width="0.8" stroke-linejoin="miter"/>
<polygon points="1065.50,767.26 1056.30,748.76 1074.70,748.76" fill="none" stroke="#000" stroke-width="0.8" stroke-linejoin="miter"/>
<polygon points="1066.97,767.38 1057.77,748.88 1076.17,748.88" fill="none" stroke="#000" stroke-width="0.8" stroke-linejoin="miter"/>
<polygon points="1068.44,770.99 1059.24,752.49 1077.64,752.49" fill="none" stroke="#000" stroke-width="0.8" stroke-linejoin="miter"/>
<polygon points="1069.91,770.52 1060.71,752.02 1079.11,752.02" fill="none" stroke="#000" stroke-width="0.8" stroke-linejoin="miter"/>
<polygon points="1071.39,767.35 1062.19,748.85 1080.59,748.85" fill="none" stroke="#000" stroke-width="0.8" stroke-linejoin="miter"/>
<polygon points="1072.86,770.62 1063.66,752.12 1082.06,752.12" fill="none" stroke="#000" stroke-width="0.8" stroke-linejoin="miter"/>
<polygon points="1074.33,771.36 1065.13,752.86 1083.53,752.86" fill="none" stroke="#000" stroke-width="0.8" stroke-linejoin="miter"/>
<polygon points="1075.80,769.80 1066.60,751.30 1085.00,751.30" fill="none" stroke="#000" stroke-width="0.8" stroke-linejoin="miter"/>
<polygon points="1060.00,766.20 1050.50,747.20 1069.50,747.20" fill="none" stroke="#000" stroke-width="0.8" stroke-linejoin="miter"/>
<polygon points="1071.00,767.50 1061.50,748.50 1080.50,748.50" fill="none" stroke="#000" stroke-width="0.8" stroke-linejoin="miter"/>
<line x1="1043.00" y1="759.90" x2="1088.00" y2="759.90" stroke="#000" stroke-width="2.3" />
<line x1="1054.00" y1="758.20" x2="1077.00" y2="758.20" stroke="#000" stroke-width="1.4" />
<line x1="1054.00" y1="761.60" x2="1077.00" y2="761.60" stroke="#000" stroke-width="1.4" />
<polygon points="1122.00,748.22 1131.30,757.52 1122.00,766.82 1112.70,757.52" fill="none" stroke="#000" stroke-width="1.0"/>
<polygon points="1123.09,748.86 1132.39,758.16 1123.09,767.46 1113.79,758.16" fill="none" stroke="#000" stroke-width="1.0"/>
<polygon points="1124.18,747.52 1133.48,756.82 1124.18,766.12 1114.88,756.82" fill="none" stroke="#000" stroke-width="1.0"/>
<polygon points="1125.27,747.15 1134.57,756.45 1125.27,765.75 1115.97,756.45" fill="none" stroke="#000" stroke-width="1.0"/>
<polygon points="1126.36,750.21 1135.66,759.51 1126.36,768.81 1117.06,759.51" fill="none" stroke="#000" stroke-width="1.0"/>
<polygon points="1127.45,749.18 1136.75,758.48 1127.45,767.78 1118.15,758.48" fill="none" stroke="#000" stroke-width="1.0"/>
<polygon points="1128.55,748.79 1137.85,758.09 1128.55,767.39 1119.25,758.09" fill="none" stroke="#000" stroke-width="1.0"/>
<polygon points="1129.64,750.09 1138.94,759.39 1129.64,768.69 1120.34,759.39" fill="none" stroke="#000" stroke-width="1.0"/>
<polygon points="1130.73,748.49 1140.03,757.79 1130.73,767.09 1121.43,757.79" fill="none" stroke="#000" stroke-width="1.0"/>
<polygon points="1131.82,749.89 1141.12,759.19 1131.82,768.49 1122.52,759.19" fill="none" stroke="#000" stroke-width="1.0"/>
<polygon points="1132.91,749.74 1142.21,759.04 1132.91,768.34 1123.61,759.04" fill="none" stroke="#000" stroke-width="1.0"/>
<polygon points="1134.00,747.78 1143.30,757.08 1134.00,766.38 1124.70,757.08" fill="none" stroke="#000" stroke-width="1.0"/>
<polygon points="1131.50,744.20 1140.80,753.50 1131.50,762.80 1122.20,753.50" fill="none" stroke="#000" stroke-width="1.0"/>
<polygon points="1135.50,746.20 1144.80,755.50 1135.50,764.80 1126.20,755.50" fill="none" stroke="#000" stroke-width="1.0"/>
<polygon points="1142.50,749.90 1151.80,759.20 1142.50,768.50 1133.20,759.20" fill="none" stroke="#000" stroke-width="1.0"/>
<polygon points="1139.00,751.00 1148.30,760.30 1139.00,769.60 1129.70,760.30" fill="none" stroke="#000" stroke-width="1.0"/>
<polygon points="1128.00,746.20 1137.30,755.50 1128.00,764.80 1118.70,755.50" fill="none" stroke="#000" stroke-width="1.0"/>
<polygon points="1137.50,748.20 1146.80,757.50 1137.50,766.80 1128.20,757.50" fill="none" stroke="#000" stroke-width="1.0"/>
<line x1="1109.80" y1="757.60" x2="1155.10" y2="757.60" stroke="#000" stroke-width="2.3" />
<line x1="1120.00" y1="757.70" x2="1145.00" y2="757.70" stroke="#000" stroke-width="4.4" />
<polygon points="1179.00,742.08 1183.65,734.03 1192.95,734.03 1197.60,742.08 1192.95,750.13 1183.65,750.13" fill="none" stroke="#000" stroke-width="1.0"/>
<polygon points="1180.63,742.19 1185.28,734.14 1194.58,734.14 1199.23,742.19 1194.58,750.24 1185.28,750.24" fill="none" stroke="#000" stroke-width="1.0"/>
<polygon points="1182.26,742.05 1186.91,734.00 1196.21,734.00 1200.86,742.05 1196.21,750.10 1186.91,750.10" fill="none" stroke="#000" stroke-width="1.0"/>
<polygon points="1183.89,742.98 1188.54,734.93 1197.84,734.93 1202.49,742.98 1197.84,751.03 1188.54,751.03" fill="none" stroke="#000" stroke-width="1.0"/>
<polygon points="1185.52,742.10 1190.17,734.05 1199.47,734.05 1204.12,742.10 1199.47,750.15 1190.17,750.15" fill="none" stroke="#000" stroke-width="1.0"/>
<polygon points="1187.15,742.53 1191.80,734.48 1201.10,734.48 1205.75,742.53 1201.10,750.58 1191.80,750.58" fill="none" stroke="#000" stroke-width="1.0"/>
<polygon points="1188.78,741.75 1193.43,733.70 1202.73,733.70 1207.38,741.75 1202.73,749.80 1193.43,749.80" fill="none" stroke="#000" stroke-width="1.0"/>
<polygon points="1190.42,743.86 1195.07,735.81 1204.37,735.81 1209.02,743.86 1204.37,751.91 1195.07,751.91" fill="none" stroke="#000" stroke-width="1.0"/>
<polygon points="1192.05,742.36 1196.70,734.31 1206.00,734.31 1210.65,742.36 1206.00,750.41 1196.70,750.41" fill="none" stroke="#000" stroke-width="1.0"/>
<polygon points="1193.68,742.64 1198.33,734.59 1207.63,734.59 1212.28,742.64 1207.63,750.69 1198.33,750.69" fill="none" stroke="#000" stroke-width="1.0"/>
<polygon points="1195.31,742.98 1199.96,734.93 1209.26,734.93 1213.91,742.98 1209.26,751.03 1199.96,751.03" fill="none" stroke="#000" stroke-width="1.0"/>
<polygon points="1196.94,743.84 1201.59,735.79 1210.89,735.79 1215.54,743.84 1210.89,751.89 1201.59,751.89" fill="none" stroke="#000" stroke-width="1.0"/>
<polygon points="1198.57,742.54 1203.22,734.49 1212.52,734.49 1217.17,742.54 1212.52,750.59 1203.22,750.59" fill="none" stroke="#000" stroke-width="1.0"/>
<polygon points="1200.20,743.88 1204.85,735.83 1214.15,735.83 1218.80,743.88 1214.15,751.93 1204.85,751.93" fill="none" stroke="#000" stroke-width="1.0"/>
<polygon points="1188.40,740.00 1193.05,731.95 1202.35,731.95 1207.00,740.00 1202.35,748.05 1193.05,748.05" fill="none" stroke="#000" stroke-width="1.0"/>
<polygon points="1201.70,745.40 1206.35,737.35 1215.65,737.35 1220.30,745.40 1215.65,753.45 1206.35,753.45" fill="none" stroke="#000" stroke-width="1.0"/>
<line x1="1176.50" y1="742.60" x2="1221.40" y2="742.60" stroke="#000" stroke-width="2.3" />
<line x1="1187.00" y1="742.80" x2="1211.00" y2="742.80" stroke="#000" stroke-width="4.0" />
<polygon points="1253.60,758.45 1245.70,775.30 1261.50,775.30" fill="#000" stroke="#000" stroke-width="0.5" stroke-linejoin="miter"/>
<polygon points="1254.43,758.50 1246.53,775.30 1262.33,775.30" fill="#000" stroke="#000" stroke-width="0.5" stroke-linejoin="miter"/>
<polygon points="1255.27,758.49 1247.37,775.30 1263.17,775.30" fill="#000" stroke="#000" stroke-width="0.5" stroke-linejoin="miter"/>
<polygon points="1256.10,757.63 1248.20,775.30 1264.00,775.30" fill="#000" stroke="#000" stroke-width="0.5" stroke-linejoin="miter"/>
<polygon points="1256.94,758.35 1249.04,775.30 1264.84,775.30" fill="#000" stroke="#000" stroke-width="0.5" stroke-linejoin="miter"/>
<polygon points="1257.77,757.91 1249.87,775.30 1265.67,775.30" fill="#000" stroke="#000" stroke-width="0.5" stroke-linejoin="miter"/>
<polygon points="1258.61,757.61 1250.71,775.30 1266.51,775.30" fill="#000" stroke="#000" stroke-width="0.5" stroke-linejoin="miter"/>
<polygon points="1259.44,758.96 1251.54,775.30 1267.34,775.30" fill="#000" stroke="#000" stroke-width="0.5" stroke-linejoin="miter"/>
<polygon points="1260.28,757.89 1252.38,775.30 1268.18,775.30" fill="#000" stroke="#000" stroke-width="0.5" stroke-linejoin="miter"/>
<polygon points="1261.11,758.40 1253.21,775.30 1269.01,775.30" fill="#000" stroke="#000" stroke-width="0.5" stroke-linejoin="miter"/>
<polygon points="1261.94,758.83 1254.04,775.30 1269.84,775.30" fill="#000" stroke="#000" stroke-width="0.5" stroke-linejoin="miter"/>
<polygon points="1262.78,758.55 1254.88,775.30 1270.68,775.30" fill="#000" stroke="#000" stroke-width="0.5" stroke-linejoin="miter"/>
<polygon points="1263.61,758.15 1255.71,775.30 1271.51,775.30" fill="#000" stroke="#000" stroke-width="0.5" stroke-linejoin="miter"/>
<polygon points="1264.45,758.48 1256.55,775.30 1272.35,775.30" fill="#000" stroke="#000" stroke-width="0.5" stroke-linejoin="miter"/>
<polygon points="1265.28,758.54 1257.38,775.30 1273.18,775.30" fill="#000" stroke="#000" stroke-width="0.5" stroke-linejoin="miter"/>
<polygon points="1266.12,758.93 1258.22,775.30 1274.02,775.30" fill="#000" stroke="#000" stroke-width="0.5" stroke-linejoin="miter"/>
<polygon points="1266.95,757.78 1259.05,775.30 1274.85,775.30" fill="#000" stroke="#000" stroke-width="0.5" stroke-linejoin="miter"/>
<polygon points="1267.79,758.55 1259.89,775.30 1275.69,775.30" fill="#000" stroke="#000" stroke-width="0.5" stroke-linejoin="miter"/>
<polygon points="1268.62,758.02 1260.72,775.30 1276.52,775.30" fill="#000" stroke="#000" stroke-width="0.5" stroke-linejoin="miter"/>
<polygon points="1269.46,758.07 1261.56,775.30 1277.36,775.30" fill="#000" stroke="#000" stroke-width="0.5" stroke-linejoin="miter"/>
<polygon points="1270.29,758.91 1262.39,775.30 1278.19,775.30" fill="#000" stroke="#000" stroke-width="0.5" stroke-linejoin="miter"/>
<polygon points="1271.12,758.46 1263.22,775.30 1279.02,775.30" fill="#000" stroke="#000" stroke-width="0.5" stroke-linejoin="miter"/>
<polygon points="1271.96,758.55 1264.06,775.30 1279.86,775.30" fill="#000" stroke="#000" stroke-width="0.5" stroke-linejoin="miter"/>
<polygon points="1272.79,758.89 1264.89,775.30 1280.69,775.30" fill="#000" stroke="#000" stroke-width="0.5" stroke-linejoin="miter"/>
<polygon points="1273.63,759.15 1265.73,775.30 1281.53,775.30" fill="#000" stroke="#000" stroke-width="0.5" stroke-linejoin="miter"/>
<polygon points="1274.46,758.35 1266.56,775.30 1282.36,775.30" fill="#000" stroke="#000" stroke-width="0.5" stroke-linejoin="miter"/>
<polygon points="1275.30,758.64 1267.40,775.30 1283.20,775.30" fill="#000" stroke="#000" stroke-width="0.5" stroke-linejoin="miter"/>
<polygon points="1276.13,758.46 1268.23,775.30 1284.03,775.30" fill="#000" stroke="#000" stroke-width="0.5" stroke-linejoin="miter"/>
<polygon points="1276.97,758.47 1269.07,775.30 1284.87,775.30" fill="#000" stroke="#000" stroke-width="0.5" stroke-linejoin="miter"/>
<polygon points="1277.80,758.78 1269.90,775.30 1285.70,775.30" fill="#000" stroke="#000" stroke-width="0.5" stroke-linejoin="miter"/>
<line x1="1242.80" y1="766.80" x2="1287.70" y2="766.80" stroke="#000" stroke-width="2.3" />
</svg>
</body></html>
